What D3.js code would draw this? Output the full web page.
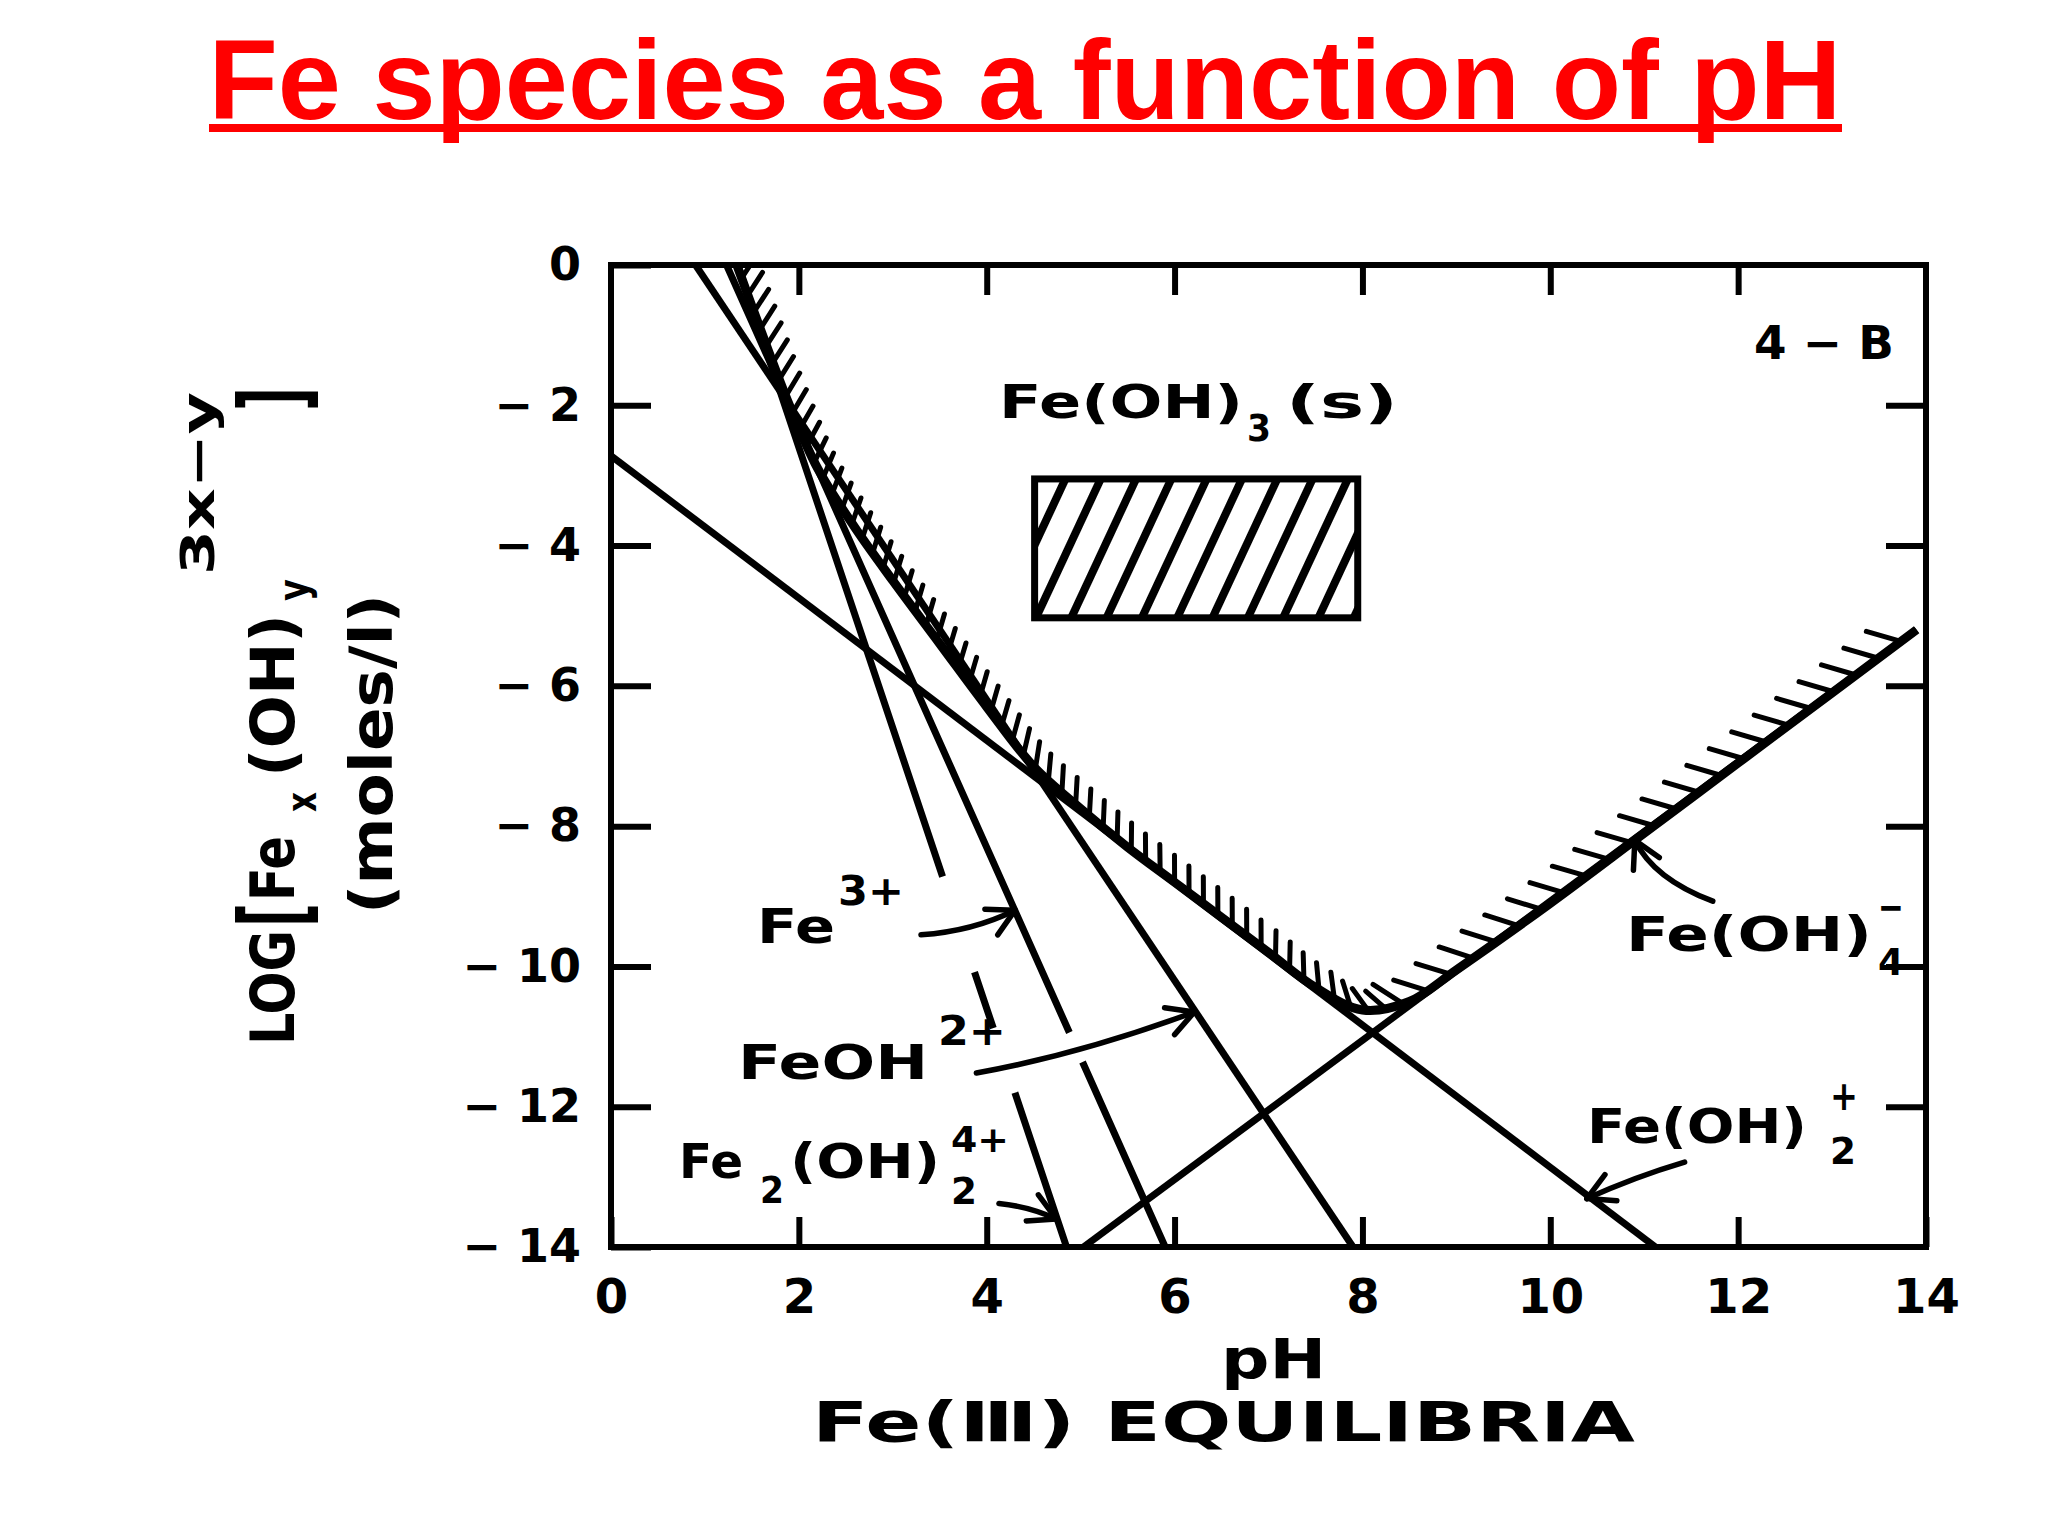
<!DOCTYPE html>
<html>
<head>
<meta charset="utf-8">
<script src="https://cdn.jsdelivr.net/npm/d3@7"></script>
<style>
  body { margin: 0; background: #fff; }
  text { font-family: "DejaVu Sans", sans-serif; font-weight: bold; fill: #000; }
  .title { font-family: "Liberation Sans", Arial, sans-serif; fill: #ff0000; }
</style>
</head>
<body>
<svg id="chart" width="2048" height="1536"></svg>
<script>
// values: x = pH, y = log concentration
var xTicks = [0, 2, 4, 6, 8, 10, 12, 14];
var yTicks = [0, -2, -4, -6, -8, -10, -12, -14];

// straight species lines, [pH, log C] end points
var fe3 = [[1.23, 0], [5.9, -14]];
var feOH = [[0.9, 0], [7.9, -14]];
var feOH2 = [[0, -2.72], [11.12, -14]];
var feOH4 = [[5.03, -14], [13.9, -5.2]];
var fe2OH2 = [[1.35, 0], [4.85, -14]];

// pH ranges where a line is broken to let a label arrow pass
var fe3Gaps = [[4.88, 5.02]];
var fe2OH2Gaps = [[3.53, 3.87], [4.07, 4.3]];

// hatched solubility boundary of Fe(OH)3(s)
var solPH = [1.34, 1.6, 1.9, 2.2, 2.6, 3.0, 3.5, 4.0, 4.5, 5.0, 5.5, 6.0, 6.5, 7.0, 7.5, 8.0, 8.5, 9.0, 10, 11, 12, 13, 13.9];
var solLog = [0, -0.95, -2.0, -2.9, -3.75, -4.5, -5.4, -6.3, -7.15, -7.75, -8.3, -8.8, -9.3, -9.8, -10.3, -10.62, -10.5, -10.05, -9.1, -8.1, -7.1, -6.1, -5.2];

// label arrows: start, bend, tip (pH, log C)
var arrowFrom = [[3.3, -9.55], [3.89, -11.52], [4.13, -13.38], [11.43, -12.79], [11.73, -9.07]];
var arrowBend = [[3.85, -9.5], [5.0, -11.25], [4.45, -13.42], [10.9, -13.0], [11.1, -8.75]];
var arrowTip = [[4.3, -9.2], [6.21, -10.65], [4.74, -13.6], [10.39, -13.31], [10.9, -8.2]];

// legend box for the solid phase
var solidBox = [[4.51, -3.05], [7.95, -5.03]];

var svg = d3.select('#chart');
var width = +svg.attr('width');
var height = +svg.attr('height');

svg.append('rect').attr('width', width).attr('height', height).attr('fill', '#fff');

var x = d3.scaleLinear().domain([0, 14]).range([611, 1926]);
var y = d3.scaleLinear().domain([0, -14]).range([265, 1247]);

var defs = svg.append('defs');
defs.append('clipPath').attr('id', 'plot-clip')
  .append('rect')
  .attr('x', x(0)).attr('y', y(0))
  .attr('width', x(14) - x(0)).attr('height', y(-14) - y(0));

// title
svg.append('text')
  .attr('class', 'title')
  .attr('x', 1025).attr('y', 119)
  .attr('text-anchor', 'middle')
  .attr('font-size', 114)
  .attr('textLength', 1633)
  .attr('lengthAdjust', 'spacingAndGlyphs')
  .text('Fe species as a function of pH');
svg.append('rect').attr('x', 209).attr('y', 124).attr('width', 1633).attr('height', 8).attr('fill', '#ff0000');

var g = svg.append('g');

// axes with inward ticks
function styleAxis(sel) {
  sel.select('.domain').remove();
  sel.selectAll('line').attr('stroke', '#000').attr('stroke-width', 6);
}
var fmt = function(d) { return d === 0 ? '0' : '\u2212 ' + Math.abs(d); };

g.append('g').attr('transform', 'translate(' + x(0) + ',0)')
  .call(d3.axisLeft(y).tickValues(yTicks).tickSizeInner(-40).tickSizeOuter(0).tickPadding(30).tickFormat(fmt))
  .call(styleAxis)
  .selectAll('text').attr('font-size', 46).attr('font-family', 'DejaVu Sans').attr('font-weight', 'bold');

g.append('g').attr('transform', 'translate(' + x(14) + ',0)')
  .call(d3.axisRight(y).tickValues(yTicks.slice(1, -1)).tickSizeInner(-40).tickSizeOuter(0).tickFormat(''))
  .call(styleAxis);

g.append('g').attr('transform', 'translate(0,' + y(0) + ')')
  .call(d3.axisTop(x).tickValues(xTicks.slice(1, -1)).tickSizeInner(-30).tickSizeOuter(0).tickFormat(''))
  .call(styleAxis);

g.append('g').attr('transform', 'translate(0,' + y(-14) + ')')
  .call(d3.axisBottom(x).tickValues(xTicks).tickSizeInner(-30).tickSizeOuter(0).tickPadding(32))
  .call(styleAxis)
  .selectAll('text').attr('font-size', 48).attr('font-family', 'DejaVu Sans').attr('font-weight', 'bold');

// species lines
var line = d3.line().x(function(d) { return x(d[0]); }).y(function(d) { return y(d[1]); });

function dashFor(pts, gaps) {
  if (!gaps || !gaps.length) return null;
  var L = Math.hypot(x(pts[1][0]) - x(pts[0][0]), y(pts[1][1]) - y(pts[0][1]));
  var span = pts[1][0] - pts[0][0];
  var out = [], last = 0;
  gaps.forEach(function(gp) {
    var a = (gp[0] - pts[0][0]) / span * L;
    var b = (gp[1] - pts[0][0]) / span * L;
    out.push(a - last, b - a);
    last = b;
  });
  out.push(L);
  return out.join(' ');
}

var species = [
  { pts: fe3, gaps: fe3Gaps },
  { pts: feOH, gaps: [] },
  { pts: feOH2, gaps: [] },
  { pts: feOH4, gaps: [] },
  { pts: fe2OH2, gaps: fe2OH2Gaps }
];

var plot = g.append('g').attr('clip-path', 'url(#plot-clip)');

plot.selectAll('.species')
  .data(species)
  .enter()
  .append('path')
  .attr('class', 'species')
  .attr('d', function(d) { return line(d.pts); })
  .attr('fill', 'none')
  .attr('stroke', '#000')
  .attr('stroke-width', 7)
  .attr('stroke-dasharray', function(d) { return dashFor(d.pts, d.gaps); });

// solubility boundary with hatch marks on the solid side
var solData = solPH.map(function(p, i) { return [p, solLog[i]]; });
var solPath = plot.append('path')
  .attr('d', line.curve(d3.curveCatmullRom.alpha(0.5))(solData))
  .attr('fill', 'none')
  .attr('stroke', '#000')
  .attr('stroke-width', 9);

var node = solPath.node();
var total = node.getTotalLength();
var rot = 37 * Math.PI / 180;
var hatch = plot.append('g').attr('stroke', '#000').attr('stroke-width', 5).attr('stroke-linecap', 'round');
var s = 14;
while (s < total - 4) {
  var p = node.getPointAtLength(s);
  var q = node.getPointAtLength(Math.min(total, s + 2));
  var tx = q.x - p.x, ty = q.y - p.y, tl = Math.hypot(tx, ty);
  tx /= tl; ty /= tl;
  var nx = ty, ny = -tx;
  var dx = nx * Math.cos(rot) + ny * Math.sin(rot);
  var dy = -nx * Math.sin(rot) + ny * Math.cos(rot);
  var right = x.invert(p.x) > 8.3;
  var len = right ? 36 : 27;
  hatch.append('line')
    .attr('x1', p.x).attr('y1', p.y)
    .attr('x2', p.x + dx * len).attr('y2', p.y + dy * len);
  s += right ? 28 : 18;
}

// frame
g.append('rect')
  .attr('x', x(0)).attr('y', y(0))
  .attr('width', x(14) - x(0)).attr('height', y(-14) - y(0))
  .attr('fill', 'none').attr('stroke', '#000').attr('stroke-width', 6);

// hatched legend box
defs.append('pattern')
  .attr('id', 'diag')
  .attr('patternUnits', 'userSpaceOnUse')
  .attr('width', 32).attr('height', 32)
  .attr('patternTransform', 'rotate(25)')
  .append('line')
  .attr('x1', 16).attr('y1', 0).attr('x2', 16).attr('y2', 32)
  .attr('stroke', '#000').attr('stroke-width', 8);

g.append('rect')
  .attr('x', x(solidBox[0][0])).attr('y', y(solidBox[0][1]))
  .attr('width', x(solidBox[1][0]) - x(solidBox[0][0]))
  .attr('height', y(solidBox[1][1]) - y(solidBox[0][1]))
  .attr('fill', 'url(#diag)')
  .attr('stroke', '#000').attr('stroke-width', 7);

// label arrows
var arrowG = g.append('g').attr('fill', 'none').attr('stroke', '#000').attr('stroke-width', 5.5).attr('stroke-linecap', 'round');
arrowFrom.forEach(function(f, i) {
  var b = arrowBend[i], t = arrowTip[i];
  var pth = d3.path();
  pth.moveTo(x(f[0]), y(f[1]));
  pth.quadraticCurveTo(x(b[0]), y(b[1]), x(t[0]), y(t[1]));
  arrowG.append('path').attr('d', pth.toString());
  var ang = Math.atan2(y(t[1]) - y(b[1]), x(t[0]) - x(b[0]));
  [-0.5, 0.5].forEach(function(off) {
    var a = ang + Math.PI + off;
    arrowG.append('line')
      .attr('x1', x(t[0])).attr('y1', y(t[1]))
      .attr('x2', x(t[0]) + 30 * Math.cos(a)).attr('y2', y(t[1]) + 30 * Math.sin(a));
  });
});

// text helper
function put(parent, px, py, str, size, len) {
  var t = parent.append('text').attr('x', px).attr('y', py).attr('font-size', size).text(str);
  if (len) t.attr('textLength', len).attr('lengthAdjust', 'spacingAndGlyphs');
  return t;
}

// in-plot labels
put(g, 1754, 359, '4 \u2212 B', 46, 140);
put(g, 999, 418, 'Fe(OH)', 46, 244);
put(g, 1247, 441, '3', 38, 24);
put(g, 1286, 418, '(s)', 46, 112);

put(g, 757, 943, 'Fe', 48, 78);
put(g, 838, 905, '3+', 40, 66);

put(g, 738, 1079, 'FeOH', 48, 190);
put(g, 938, 1045, '2+', 40, 68);

put(g, 679, 1178, 'Fe', 48, 64);
put(g, 760, 1203, '2', 38, 24);
put(g, 790, 1178, '(OH)', 48, 150);
put(g, 951, 1152, '4+', 36, 58);
put(g, 951, 1204, '2', 38, 26);

put(g, 1587, 1143, 'Fe(OH)', 48, 220);
put(g, 1830, 1110, '+', 40, 28);
put(g, 1830, 1164, '2', 38, 26);

put(g, 1626, 951, 'Fe(OH)', 48, 246);
put(g, 1878, 921, '\u2212', 40, 26);
put(g, 1878, 975, '4', 38, 26);

// axis titles
put(svg, 1221, 1378, 'pH', 56, 105);
put(svg, 812, 1441, 'Fe(\u2162) EQUILIBRIA', 56, 823);

var yl = svg.append('g').attr('transform', 'translate(294,715) rotate(-90)');
put(yl, -330, 0, 'LOG', 60, 115);
put(yl, -212, 12, '[', 92, 24);
put(yl, -186, 0, 'Fe', 60, 65);
put(yl, -97, 22, 'x', 42, 20);
put(yl, -62, 0, '(OH)', 60, 163);
put(yl, 114, 14, 'y', 42, 22);
put(yl, 140, -80, '3x\u2212y', 46, 183);
put(yl, 304, 12, ']', 92, 24);
put(yl, -199, 98, '(moles/l)', 58, 320);
</script>
</body>
</html>
